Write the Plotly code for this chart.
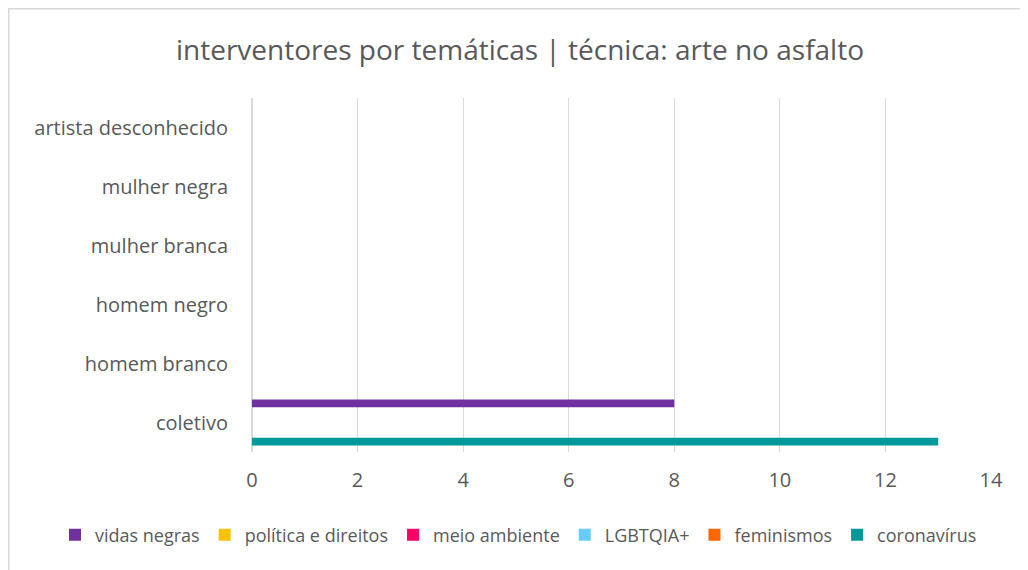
import plotly.graph_objects as go

# categories bottom -> top, as on the chart
categories = ["coletivo", "homem branco", "homem negro", "mulher branca",
              "mulher negra", "artista desconhecido"]

# series (legend order)
series_names = ["vidas negras", "política e direitos", "meio ambiente",
                "LGBTQIA+", "feminismos", "coronavírus"]
series_colors = ["#7030a0", "#ffc000", "#ff0066", "#66ccff", "#ff6600", "#009999"]

vidas_negras = [8, 0, 0, 0, 0, 0]
politica_direitos = [0, 0, 0, 0, 0, 0]
meio_ambiente = [0, 0, 0, 0, 0, 0]
lgbtqia = [0, 0, 0, 0, 0, 0]
feminismos = [0, 0, 0, 0, 0, 0]
coronavirus = [13, 0, 0, 0, 0, 0]

series_values = [vidas_negras, politica_direitos, meio_ambiente,
                 lgbtqia, feminismos, coronavirus]

x_ticks = [0, 2, 4, 6, 8, 10, 12, 14]

FONT = "Open Sans, Calibri, sans-serif"
GREY = "#595959"

W, H = 1028, 570
L, R, T, B = 244, 45, 90, 126
PW, PH = W - L - R, H - T - B

fig = go.Figure()
# plotly places grouped h-bars bottom-up by trace order, so add in reverse
for name, color, vals in reversed(list(zip(series_names, series_colors, series_values))):
    fig.add_trace(go.Bar(
        y=categories, x=vals, name=name, orientation="h",
        marker=dict(color=color, line=dict(width=0)),
    ))

fig.update_layout(
    width=W, height=H,
    barmode="group", bargap=0.22, bargroupgap=0,
    paper_bgcolor="white", plot_bgcolor="white",
    margin=dict(l=L, r=R, t=T, b=B, autoexpand=False),
    font=dict(family=FONT, color=GREY, size=20),
    title=dict(text="interventores por temáticas | técnica: arte no asfalto",
               xref="container", x=512 / W, xanchor="center",
               yref="container", y=1 - 42 / H, yanchor="middle",
               font=dict(size=28, color=GREY, family=FONT)),
    # left-anchored in the margin and below the plot so it may span the full width
    legend=dict(orientation="h", traceorder="reversed",
                xref="paper", x=(47 - L) / PW, xanchor="left",
                yref="paper", y=(PH - (527 - T)) / PH, yanchor="middle",
                font=dict(size=18, color=GREY, family=FONT),
                itemwidth=30, tracegroupgap=0),
    showlegend=True,
)

fig.update_xaxes(range=[0, 14], tickvals=x_ticks, showgrid=True,
                 gridcolor="#d9d9d9", gridwidth=1, zeroline=True,
                 zerolinecolor="#d9d9d9", showline=False, ticks="",
                 ticklabelstandoff=14,
                 tickfont=dict(size=20, color=GREY), fixedrange=True)
fig.update_yaxes(categoryorder="array", categoryarray=categories,
                 showgrid=False, showline=False, ticks="", ticklabelstandoff=23,
                 tickfont=dict(size=20, color=GREY))

# chart frame like the spreadsheet chart area
fig.add_shape(type="rect", xref="paper", yref="paper",
              x0=(0.75 - L) / PW, x1=(W + 20 - L) / PW,
              y0=(PH + 0 - (H + 20 - T)) / PH, y1=(PH + T - 0.75) / PH,
              line=dict(color="#d9d9d9", width=1.5), fillcolor="rgba(0,0,0,0)",
              layer="below")

fig.write_html("out.html")
